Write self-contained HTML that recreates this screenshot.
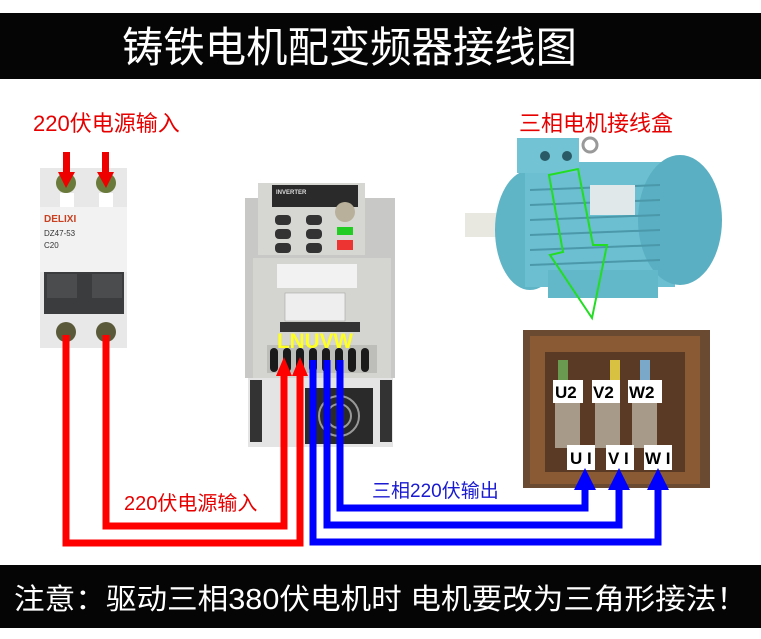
<!DOCTYPE html>
<html><head><meta charset="utf-8"><style>
html,body{margin:0;padding:0;background:#fff;}
svg{display:block;}
text{font-family:"Liberation Sans","Noto Sans CJK SC",sans-serif;}
</style></head><body>
<svg width="761" height="639" viewBox="0 0 761 639" xmlns="http://www.w3.org/2000/svg">
<rect width="761" height="639" fill="#fff"/>
<!-- title -->
<rect x="0" y="13" width="761" height="66" fill="#050505"/>
<text x="122" y="62" textLength="455" lengthAdjust="spacingAndGlyphs" font-size="42" fill="#fff" font-family="Noto Sans CJK SC, sans-serif">铸铁电机配变频器接线图</text>
<!-- labels -->
<text x="33" y="131" font-size="22" fill="#e60000">220伏电源输入</text>
<text x="519" y="131" font-size="22" fill="#e60000">三相电机接线盒</text>
<!-- breaker -->
<rect x="40" y="168" width="87" height="180" fill="#e8e8e8"/>
<circle cx="66" cy="183" r="10" fill="#6a7a3a"/><circle cx="106" cy="183" r="10" fill="#6a7a3a"/>
<rect x="60" y="193" width="14" height="14" fill="#fff"/><rect x="99" y="193" width="14" height="14" fill="#fff"/>
<rect x="40" y="207" width="87" height="65" fill="#f2f2f2"/>
<text x="44" y="222" font-size="10" font-weight="bold" fill="#c84020">DELIXI</text>
<text x="44" y="236" font-size="8" fill="#333">DZ47-53</text>
<text x="44" y="248" font-size="8" fill="#333">C20</text>
<rect x="44" y="272" width="80" height="42" fill="#3a3c3e"/>
<rect x="47" y="274" width="30" height="24" fill="#4a4c4e"/><rect x="92" y="274" width="30" height="24" fill="#4a4c4e"/>
<circle cx="66" cy="332" r="10" fill="#5a5a3a"/><circle cx="106" cy="332" r="10" fill="#5a5a3a"/>
<!-- inverter -->
<rect x="245" y="198" width="150" height="180" fill="#c8c8c6"/>
<rect x="258" y="183" width="107" height="72" fill="#d6d6d2"/>
<rect x="272" y="185" width="86" height="22" fill="#2a2a2a"/>
<text x="276" y="194" font-size="6" fill="#ddd" font-weight="bold">INVERTER</text>
<g fill="#333"><rect x="275" y="215" width="16" height="10" rx="4"/><rect x="275" y="229" width="16" height="10" rx="4"/><rect x="275" y="243" width="16" height="10" rx="4"/><rect x="306" y="215" width="16" height="10" rx="4"/><rect x="306" y="229" width="16" height="10" rx="4"/><rect x="306" y="243" width="16" height="10" rx="4"/></g>
<circle cx="345" cy="212" r="10" fill="#b8b09a"/>
<rect x="337" y="227" width="16" height="8" fill="#2c2"/><rect x="337" y="240" width="16" height="10" fill="#e33"/>
<rect x="253" y="258" width="138" height="120" fill="#d4d4d1"/>
<rect x="277" y="264" width="80" height="24" fill="#f2f2f2"/>
<rect x="285" y="293" width="60" height="28" fill="#eee" stroke="#999" stroke-width="0.5"/>
<rect x="280" y="322" width="80" height="10" fill="#333"/>
<rect x="267" y="345" width="110" height="28" fill="#bdbdba"/>
<g fill="#1a1a1a"><rect x="270" y="348" width="8" height="24" rx="4"/><rect x="283" y="348" width="8" height="24" rx="4"/><rect x="296" y="348" width="8" height="24" rx="4"/><rect x="309" y="348" width="8" height="24" rx="4"/><rect x="322" y="348" width="8" height="24" rx="4"/><rect x="335" y="348" width="8" height="24" rx="4"/><rect x="348" y="348" width="8" height="24" rx="4"/><rect x="361" y="348" width="8" height="24" rx="4"/></g>
<text x="277" y="348" textLength="76" lengthAdjust="spacingAndGlyphs" font-size="21" font-weight="bold" fill="#ffff20">LNUVW</text>
<rect x="248" y="378" width="145" height="69" fill="#e4e4e4"/>
<rect x="250" y="380" width="12" height="62" fill="#333"/><rect x="380" y="380" width="12" height="62" fill="#333"/>
<rect x="305" y="388" width="68" height="56" fill="#2a2a2a"/>
<circle cx="339" cy="416" r="20" fill="none" stroke="#999" stroke-width="2"/>
<circle cx="339" cy="416" r="12" fill="none" stroke="#999" stroke-width="2"/>
<!-- motor -->
<rect x="465" y="213" width="45" height="24" fill="#e8e8e0"/>
<ellipse cx="530" cy="230" rx="35" ry="60" fill="#5fb4c6"/>
<rect x="525" y="162" width="150" height="125" fill="#6bbfd0"/>
<ellipse cx="680" cy="220" rx="42" ry="65" fill="#5aafc2"/>
<rect x="517" y="138" width="62" height="35" fill="#72c4d4"/>
<circle cx="545" cy="156" r="5" fill="#2a5a66"/><circle cx="567" cy="156" r="5" fill="#2a5a66"/>
<circle cx="590" cy="145" r="7" fill="none" stroke="#999" stroke-width="3"/>
<g stroke="#4a98aa" stroke-width="2"><line x1="530" y1="190" x2="660" y2="185"/><line x1="530" y1="205" x2="660" y2="200"/><line x1="530" y1="220" x2="660" y2="215"/><line x1="530" y1="235" x2="660" y2="230"/><line x1="530" y1="250" x2="660" y2="245"/><line x1="530" y1="265" x2="660" y2="260"/></g>
<rect x="590" y="185" width="45" height="30" fill="#e0e8ea"/>
<rect x="548" y="270" width="110" height="28" fill="#62b7c8"/>
<polygon points="549,175 578,169 593,245 607,245 592,318 550,255 563,252" fill="none" stroke="#22dd22" stroke-width="2"/>
<!-- terminal box -->
<rect x="523" y="330" width="187" height="158" fill="#6a4a30"/>
<rect x="530" y="336" width="170" height="148" fill="#8a5a35"/>
<rect x="545" y="352" width="140" height="120" fill="#5a3a24"/>
<rect x="555" y="403" width="25" height="45" fill="#a89a88"/><rect x="595" y="403" width="25" height="45" fill="#a89a88"/><rect x="632" y="403" width="25" height="45" fill="#a89a88"/>
<rect x="558" y="360" width="10" height="20" fill="#6a9a50"/><rect x="610" y="360" width="10" height="20" fill="#d8c040"/><rect x="640" y="360" width="10" height="20" fill="#7aa8c8"/>
<g fill="#fff"><rect x="553" y="380" width="30" height="23"/><rect x="592" y="380" width="28" height="23"/><rect x="628" y="380" width="34" height="23"/><rect x="567" y="445" width="28" height="25"/><rect x="606" y="445" width="28" height="25"/><rect x="644" y="445" width="28" height="25"/></g>
<g font-size="17" font-weight="900" fill="#000"><text x="555" y="398">U2</text><text x="593" y="398">V2</text><text x="629" y="398">W2</text><text x="570" y="464">U I</text><text x="608" y="464">V I</text><text x="645" y="464">W I</text></g>
<!-- red arrows top -->
<g fill="#ee0000"><rect x="63" y="152" width="7" height="22"/><polygon points="58,172 75,172 66,188"/><rect x="102" y="152" width="7" height="22"/><polygon points="97,172 114,172 106,188"/></g>
<!-- red wires -->
<g fill="none" stroke="#ff0000" stroke-width="7"><polyline points="66,335 66,543 300,543 300,372"/><polyline points="106,335 106,526 284,526 284,372"/></g>
<g fill="#ff0000"><polygon points="292,376 308,376 300,357"/><polygon points="276,376 292,376 284,357"/></g>
<!-- blue wires -->
<g fill="none" stroke="#0000ff" stroke-width="7"><polyline points="313,360 313,542 658,542 658,485"/><polyline points="327,360 327,525 619,525 619,485"/><polyline points="340,360 340,508 585,508 585,485"/></g>
<g fill="#0000ff"><polygon points="574,490 596,490 585,468"/><polygon points="608,490 630,490 619,468"/><polygon points="647,490 669,490 658,468"/></g>
<text x="124" y="510" font-size="20" fill="#e60000">220伏电源输入</text>
<text x="372" y="497" font-size="19" fill="#1a1ad0">三相220伏输出</text>
<!-- bottom -->
<rect x="0" y="565" width="761" height="63" fill="#050505"/>
<text x="14" y="609" textLength="733" lengthAdjust="spacingAndGlyphs" font-size="29" fill="#fff" font-family="Noto Sans CJK SC, sans-serif">注意：驱动三相380伏电机时  电机要改为三角形接法！</text>
</svg>
</body></html>
